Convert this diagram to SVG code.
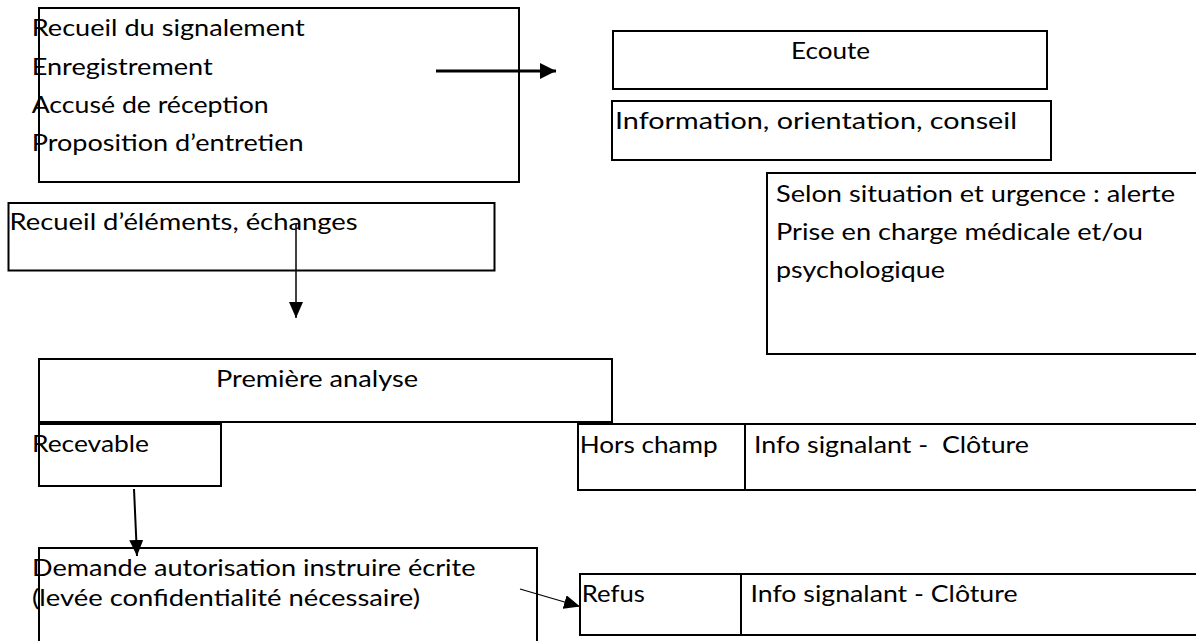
<svg xmlns="http://www.w3.org/2000/svg" width="1196" height="641" viewBox="0 0 1196 641">
<style>
.box{fill:none;stroke:#000;stroke-width:2}
.t{font-family:Lato,"Open Sans","Liberation Sans",sans-serif;font-size:23px;fill:#000;white-space:pre}
.c{fill:none;stroke:#000}
</style>
<defs>
<marker id="ah" markerUnits="userSpaceOnUse" markerWidth="16" markerHeight="16" refX="16" refY="8" orient="auto">
<path d="M0,0 L16,8 L0,16 z" fill="#000"/>
</marker>
<marker id="ahs" markerUnits="userSpaceOnUse" markerWidth="16" markerHeight="14" refX="16" refY="7" orient="auto">
<path d="M0,0 L16,7 L0,14 z" fill="#000"/>
</marker>
</defs>
<rect width="1196" height="641" fill="#fff"/>

<g id="n-signalement">
<rect class="box" x="39" y="8" width="480" height="174"/>
<text class="t" x="31.7" y="36" textLength="273" lengthAdjust="spacingAndGlyphs">Recueil du signalement</text>
<text class="t" x="31.7" y="74.5" textLength="181" lengthAdjust="spacingAndGlyphs">Enregistrement</text>
<text class="t" x="31.7" y="112.5" textLength="237" lengthAdjust="spacingAndGlyphs">Accusé de réception</text>
<text class="t" x="31.7" y="150.5" textLength="272" lengthAdjust="spacingAndGlyphs">Proposition d’entretien</text>
</g>

<g id="n-recueil-elements">
<rect class="box" x="8.5" y="203" width="486" height="67.5"/>
<text class="t" x="9.6" y="230" textLength="348" lengthAdjust="spacingAndGlyphs">Recueil d’éléments, échanges</text>
</g>

<g id="n-ecoute">
<rect class="box" x="613" y="31" width="434" height="58"/>
<text class="t" x="791" y="59" textLength="79" lengthAdjust="spacingAndGlyphs">Ecoute</text>
</g>

<g id="n-information">
<rect class="box" x="612" y="101" width="439" height="59"/>
<text class="t" x="615" y="129" textLength="402" lengthAdjust="spacingAndGlyphs">Information, orientation, conseil</text>
</g>

<g id="n-selon">
<rect class="box" x="767" y="173" width="440" height="181"/>
<text class="t" x="776" y="201.7" textLength="399" lengthAdjust="spacingAndGlyphs">Selon situation et urgence : alerte</text>
<text class="t" x="776" y="240" textLength="367" lengthAdjust="spacingAndGlyphs">Prise en charge médicale et/ou</text>
<text class="t" x="776" y="278" textLength="169" lengthAdjust="spacingAndGlyphs">psychologique</text>
</g>

<g id="n-premiere">
<rect class="box" x="39" y="359" width="573" height="63"/>
<text class="t" x="216" y="386.7" textLength="202" lengthAdjust="spacingAndGlyphs">Première analyse</text>
</g>

<g id="n-recevable">
<rect class="box" x="39" y="424" width="182" height="62"/>
<text class="t" x="32" y="451.7" textLength="117" lengthAdjust="spacingAndGlyphs">Recevable</text>
</g>

<g id="n-hors-champ">
<rect class="box" x="578" y="424" width="167" height="66"/>
<line class="box" x1="745" y1="490" x2="764" y2="490"/>
<text class="t" x="579.7" y="452.7" textLength="138" lengthAdjust="spacingAndGlyphs">Hors champ</text>
</g>

<g id="n-info-cloture-1">
<rect class="box" x="745" y="424" width="460" height="66"/>
<text class="t" x="754" y="452.5" textLength="275" lengthAdjust="spacingAndGlyphs">Info signalant -  Clôture</text>
</g>

<g id="n-demande">
<rect class="box" x="39" y="548" width="498" height="110"/>
<text class="t" x="32" y="575.7" textLength="443.5" lengthAdjust="spacingAndGlyphs">Demande autorisation instruire écrite</text>
<text class="t" x="32" y="605.5" textLength="388" lengthAdjust="spacingAndGlyphs">(levée confidentialité nécessaire)</text>
</g>

<g id="n-refus">
<rect class="box" x="580" y="574" width="161" height="61"/>
<text class="t" x="581.8" y="602.3" textLength="63" lengthAdjust="spacingAndGlyphs">Refus</text>
</g>

<g id="n-info-cloture-2">
<rect class="box" x="741" y="574" width="464" height="61"/>
<text class="t" x="750.5" y="602" textLength="267" lengthAdjust="spacingAndGlyphs">Info signalant - Clôture</text>
</g>

<g id="connectors">
<line class="c" x1="436" y1="71" x2="556" y2="71" stroke-width="3" marker-end="url(#ah)"/>
<line class="c" x1="296" y1="224" x2="296" y2="318" stroke-width="1.5" marker-end="url(#ahs)"/>
<line class="c" x1="134" y1="489" x2="137" y2="556" stroke-width="2" marker-end="url(#ahs)"/>
<line class="c" x1="520" y1="589" x2="580" y2="606.5" stroke-width="1.3" marker-end="url(#ahs)"/>
</g>
</svg>
